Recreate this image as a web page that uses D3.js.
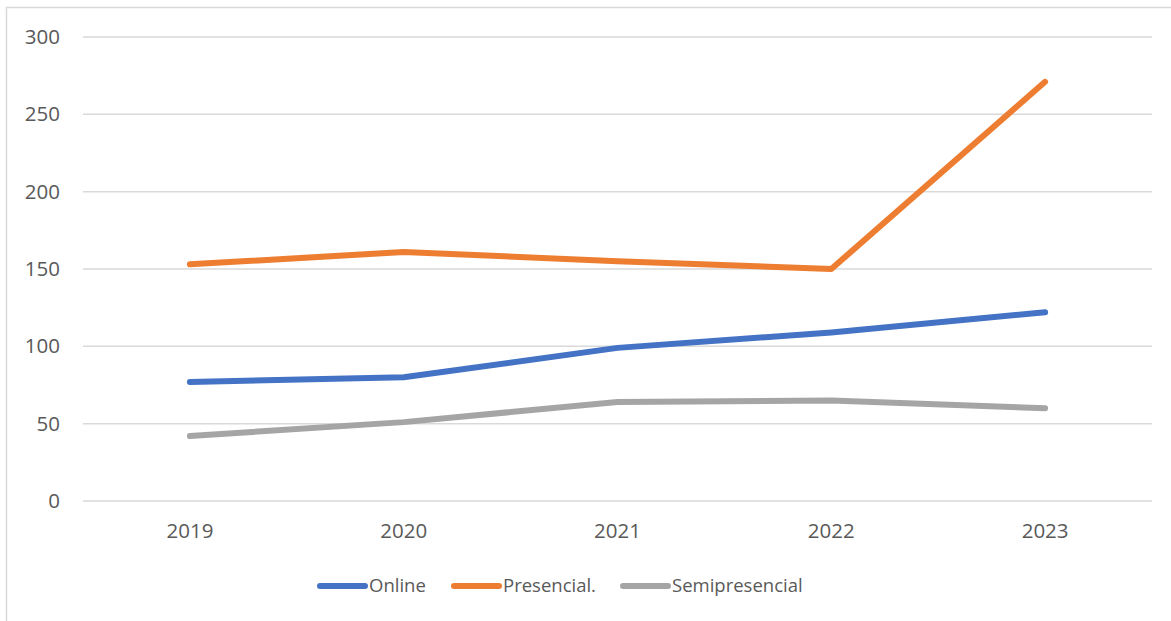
<!DOCTYPE html>
<html>
<head>
<meta charset="utf-8">
<script src="https://cdn.jsdelivr.net/npm/d3@7"></script>
<style>
  html, body { margin: 0; padding: 0; background: #fff; }
  svg { display: block; }
</style>
</head>
<body>
<div id="chart"></div>
<script>
// data
const years = ["2019", "2020", "2021", "2022", "2023"];
const online = [77, 80, 99, 109, 122];
const presencial = [153, 161, 155, 150, 271];
const semipresencial = [42, 51, 64, 65, 60];
const yTicks = [0, 50, 100, 150, 200, 250, 300];

const seriesNames = ["Online", "Presencial.", "Semipresencial"];
const seriesColors = ["#4472C4", "#ED7D31", "#A5A5A5"];

const series = [online, presencial, semipresencial].map((vals, i) => ({
    name: seriesNames[i],
    color: seriesColors[i],
    values: vals.map((v, j) => ({ year: years[j], value: v }))
}));

let width = 1171;
let height = 621;
let margin = { top: 37, right: 19, bottom: 120, left: 83 };
let plotW = width - margin.left - margin.right;
let plotH = 501 - margin.top;

const font = "'Open Sans', 'Liberation Sans', sans-serif";
const textColor = "#595959";

let svg = d3.select("#chart").append("svg")
    .attr("width", width)
    .attr("height", height);

// chart frame (only top and left edges are visible in the picture)
svg.append("rect")
    .attr("x", 6.5)
    .attr("y", 7.5)
    .attr("width", width + 20)
    .attr("height", height + 20)
    .attr("fill", "none")
    .attr("stroke", "#d9d9d9")
    .attr("stroke-width", 1.5);

let g = svg.append("g")
    .attr("transform", `translate(${margin.left},${margin.top})`);

let x = d3.scaleBand()
    .domain(years)
    .range([0, plotW]);

let y = d3.scaleLinear()
    .domain([0, 300])
    .range([plotH, 0]);

// gridlines
g.append("g")
    .selectAll("line")
    .data(yTicks)
    .enter()
    .append("line")
        .attr("x1", 0)
        .attr("x2", plotW)
        .attr("y1", d => y(d))
        .attr("y2", d => y(d))
        .attr("stroke", "#d9d9d9")
        .attr("stroke-width", 1.5);

// y axis labels
let yAxis = g.append("g")
    .attr("transform", "translate(-23,0)")
    .call(d3.axisLeft(y).tickValues(yTicks).tickSize(0).tickPadding(0));
yAxis.select(".domain").remove();
yAxis.selectAll("text")
    .attr("fill", textColor)
    .style("font-family", font)
    .style("font-size", "20.5px");

// x axis labels
let xAxis = g.append("g")
    .attr("transform", `translate(0,${plotH})`)
    .call(d3.axisBottom(x).tickSize(0).tickPadding(22));
xAxis.select(".domain").remove();
xAxis.selectAll("text")
    .attr("fill", textColor)
    .style("font-family", font)
    .style("font-size", "20.5px");

// lines
let line = d3.line()
    .x(d => x(d.year) + x.bandwidth() / 2)
    .y(d => y(d.value));

g.append("g")
    .selectAll("path")
    .data(series)
    .enter()
    .append("path")
        .attr("d", d => line(d.values))
        .attr("fill", "none")
        .attr("stroke", d => d.color)
        .attr("stroke-width", 6)
        .attr("stroke-linecap", "round")
        .attr("stroke-linejoin", "round");

// legend
const legendX = [320, 454, 623];
let legend = svg.append("g")
    .selectAll("g")
    .data(series)
    .enter()
    .append("g")
        .attr("transform", (d, i) => `translate(${legendX[i]},586)`);

legend.append("line")
    .attr("x1", 0)
    .attr("x2", 45)
    .attr("stroke", d => d.color)
    .attr("stroke-width", 6)
    .attr("stroke-linecap", "round");

legend.append("text")
    .attr("x", 49)
    .attr("dy", "0.35em")
    .attr("fill", textColor)
    .style("font-family", font)
    .style("font-size", "18.5px")
    .text(d => d.name);
</script>
</body>
</html>
